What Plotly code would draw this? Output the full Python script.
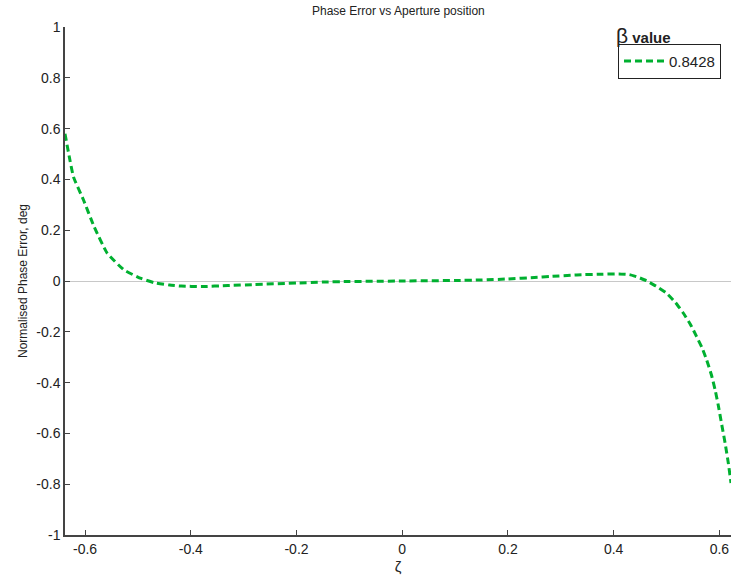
import plotly.graph_objects as go

zeta = [-0.638, -0.63, -0.622, -0.603, -0.583, -0.558, -0.526, -0.494, -0.469, -0.44, -0.418,
        -0.38, -0.33, -0.28, -0.2, -0.15, -0.1, 0.0, 0.1, 0.15, 0.2, 0.25, 0.28, 0.33,
        0.38, 0.41, 0.43, 0.447, 0.462, 0.48, 0.5, 0.517, 0.532, 0.545, 0.557, 0.567, 0.576,
        0.585, 0.592, 0.598, 0.604, 0.611, 0.617, 0.622]
phase_err = [0.58, 0.49, 0.41, 0.319, 0.214, 0.109, 0.043, 0.01, -0.007, -0.016, -0.02,
             -0.022, -0.018, -0.014, -0.008, -0.004, -0.002, 0.0, 0.002, 0.004, 0.008, 0.014, 0.018, 0.024,
             0.027, 0.028, 0.025, 0.014, 0.001, -0.02, -0.048, -0.085, -0.127, -0.17, -0.219, -0.262, -0.311,
             -0.37, -0.429, -0.49, -0.56, -0.64, -0.718, -0.795]
series_name = "0.8428"
x_ticks = [-0.6, -0.4, -0.2, 0, 0.2, 0.4, 0.6]
y_ticks = [-1, -0.8, -0.6, -0.4, -0.2, 0, 0.2, 0.4, 0.6, 0.8, 1]

font = "Liberation Sans, Arial, sans-serif"

fig = go.Figure()
fig.add_trace(go.Scatter(
    x=zeta, y=phase_err, mode="lines", name=series_name,
    line=dict(color="#00b030", width=3, dash="7px,4px", shape="spline", smoothing=0.4),
))

axis_common = dict(
    showline=True, linecolor="#444444", linewidth=1.5, mirror=False,
    ticks="inside", ticklen=5, tickcolor="#444444", tickwidth=1,
    showgrid=False, tickfont=dict(family=font, size=14, color="#222222"),
)

fig.update_layout(
    width=731, height=576,
    margin=dict(l=65, r=0, t=27, b=41),
    paper_bgcolor="white", plot_bgcolor="white",
    title=dict(text="Phase Error vs Aperture position", x=0.545, xanchor="center",
               y=0.988, yanchor="top", font=dict(family=font, size=12, color="#222222")),
    xaxis=dict(range=[-0.638, 0.622], tickvals=x_ticks,
               ticktext=[f"{v:g}" for v in x_ticks], zeroline=False,
               title=dict(text="ζ", font=dict(family=font, size=15, color="#222222"), standoff=6),
               **axis_common),
    yaxis=dict(range=[-1, 1], tickvals=y_ticks,
               ticktext=[f"{v:g}" for v in y_ticks],
               zeroline=True, zerolinecolor="#c8c8c8", zerolinewidth=1,
               title=dict(text="Normalised Phase Error, deg", font=dict(family=font, size=12, color="#222222"), standoff=6),
               **axis_common),
    showlegend=True,
    legend=dict(x=0.985, y=0.967, xanchor="right", yanchor="top",
                bordercolor="#222222", borderwidth=1, bgcolor="white",
                font=dict(family=font, size=15, color="#222222"),
                tracegroupgap=0, itemwidth=40),
)

fig.add_annotation(
    text="<span style='font-size:21px'>β</span> <b>value</b>",
    xref="paper", yref="paper", x=0.868, y=1.0, xanchor="center", yanchor="bottom",
    showarrow=False, font=dict(family=font, size=15, color="#222222"), yshift=-22,
)

fig.write_html("out.html", config={"displayModeBar": False},
               post_script="document.body.style.margin='0px';document.body.style.overflow='hidden';")
